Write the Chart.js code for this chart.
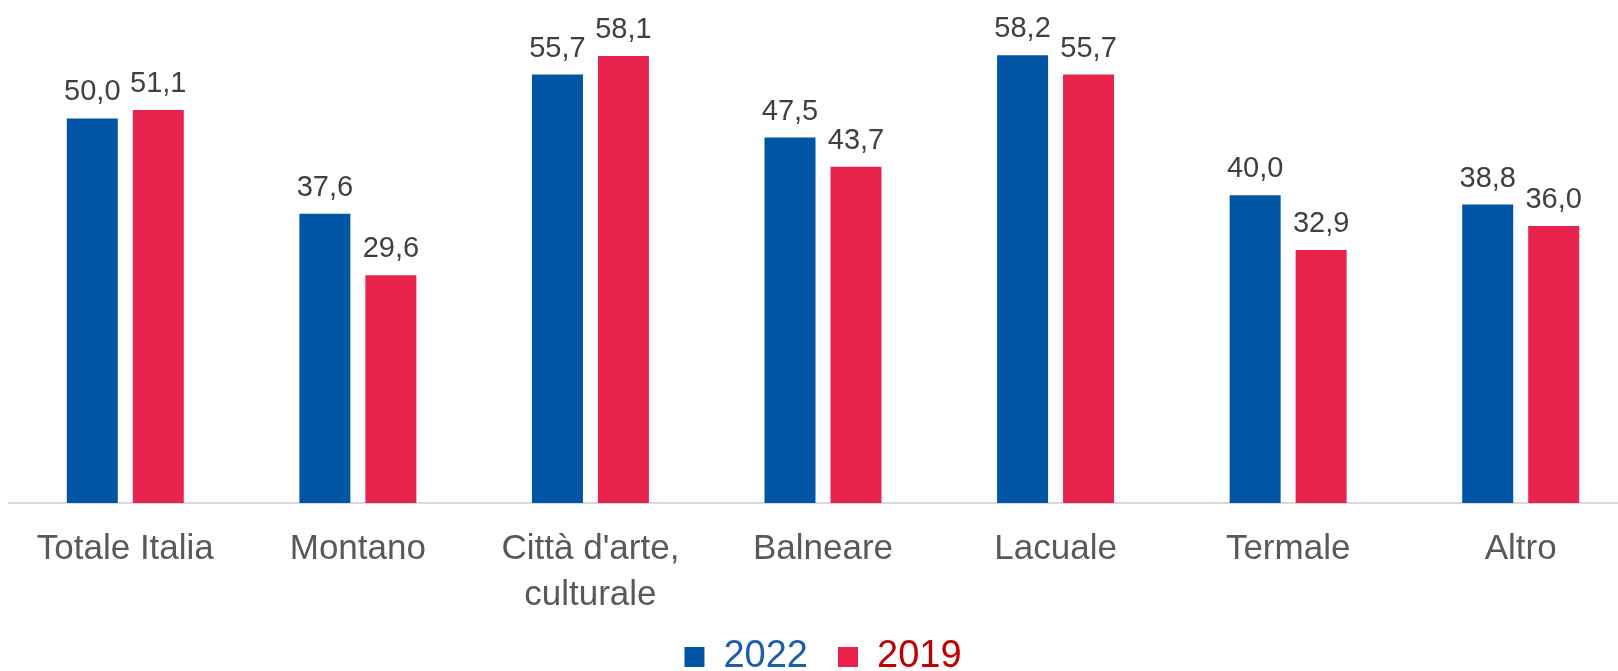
<!DOCTYPE html>
<html>
<head>
<meta charset="utf-8">
<script src="https://cdn.jsdelivr.net/npm/chart.js@4.4.1/dist/chart.umd.min.js"></script>
<style>
  html, body { margin: 0; padding: 0; background: #fff; overflow: hidden; }
  #wrap { width: 1618px; height: 671px; overflow: hidden; }
  /* il canvas è un po' più largo: l'ultima categoria e l'asse arrivano oltre il bordo come nell'originale */
  #barChart { width: 1637px; height: 671px; display: block; }
</style>
</head>
<body>
<div id="wrap"><canvas id="barChart" width="1637" height="671"></canvas></div>
<script>
// categorie e valori (%)
const categories = ['Totale Italia', 'Montano', ["Città d'arte,", 'culturale'], 'Balneare', 'Lacuale', 'Termale', 'Altro'];
const values2022 = [50.0, 37.6, 55.7, 47.5, 58.2, 40.0, 38.8];
const values2019 = [51.1, 29.6, 58.1, 43.7, 55.7, 32.9, 36.0];
const seriesNames = ['2022', '2019'];

const barColors = ['#0055A4', '#E8234E'];
const legendTextColors = ['#1B5FAA', '#C00000'];
const fontFamily = '"Liberation Sans", Arial, sans-serif';

// etichette sopra le barre (formato italiano con virgola)
const barLabels = {
    id: 'barLabels',
    afterDatasetsDraw(chart) {
        const ctx = chart.ctx;
        ctx.save();
        ctx.font = '29px ' + fontFamily;
        ctx.fillStyle = '#404040';
        ctx.textAlign = 'center';
        ctx.textBaseline = 'alphabetic';
        chart.data.datasets.forEach((ds, i) => {
            const meta = chart.getDatasetMeta(i);
            meta.data.forEach((bar, j) => {
                const txt = ds.data[j].toFixed(1).replace('.', ',');
                ctx.fillText(txt, bar.x, bar.y - 18);
            });
        });
        ctx.restore();
    }
};

const ctx = document.getElementById('barChart').getContext('2d');
const chart = new Chart(ctx, {
    type: 'bar',
    data: {
        labels: categories,
        datasets: [
            { label: seriesNames[0], data: values2022, backgroundColor: barColors[0] },
            { label: seriesNames[1], data: values2019, backgroundColor: barColors[1] }
        ]
    },
    options: {
        responsive: false,
        animation: false,
        categoryPercentage: 0.5675,
        barPercentage: 0.773,
        layout: { padding: { left: 9, right: 0, top: 3, bottom: -15 } },
        scales: {
            x: {
                grid: { display: false },
                border: { display: true, color: '#D9D9D9', width: 2 },
                ticks: {
                    color: '#595959',
                    font: { family: fontFamily, size: 35, lineHeight: 1.33 },
                    padding: 15,
                    maxRotation: 0,
                    autoSkip: false
                },
                afterFit(scale) { scale.height = 105; }
            },
            y: {
                display: false,
                min: 0,
                max: 65
            }
        },
        plugins: {
            legend: {
                position: 'bottom',
                labels: {
                    boxWidth: 20,
                    boxHeight: 20,
                    padding: 30,
                    font: { family: fontFamily, size: 38 },
                    generateLabels(chart) {
                        return chart.data.datasets.map((ds, i) => ({
                            text: ds.label,
                            fillStyle: barColors[i],
                            strokeStyle: barColors[i],
                            lineWidth: 0,
                            fontColor: legendTextColors[i],
                            datasetIndex: i
                        }));
                    }
                }
            },
            tooltip: { enabled: false }
        }
    },
    plugins: [barLabels]
});
</script>
</body>
</html>
